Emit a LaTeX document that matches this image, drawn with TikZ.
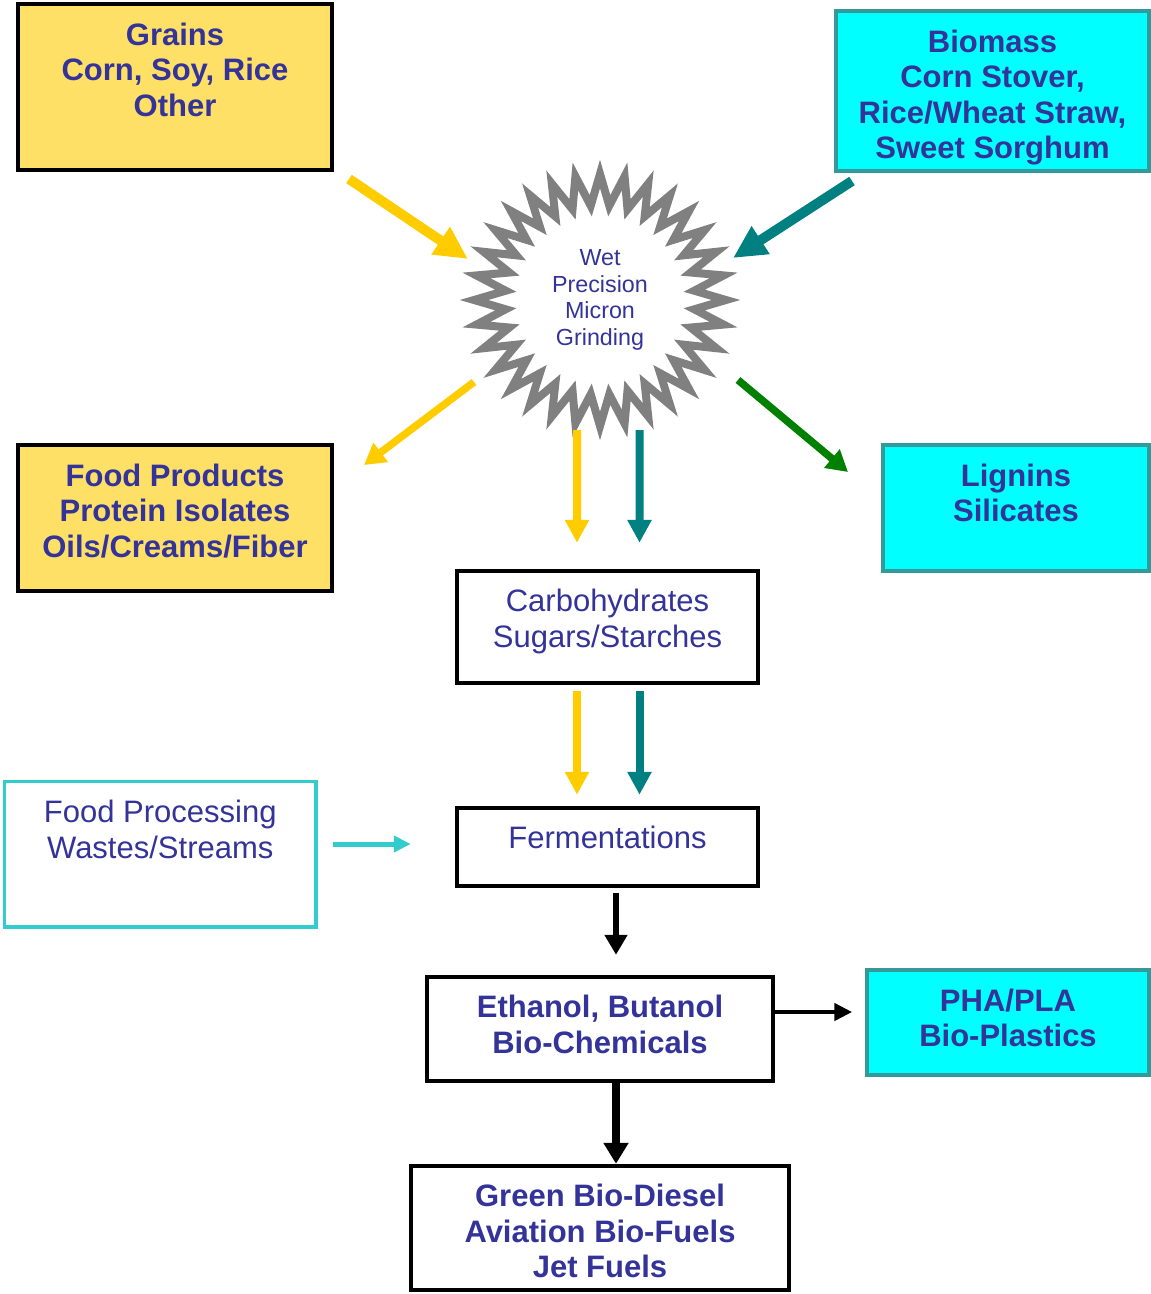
\documentclass[tikz,border=0pt]{standalone}
\usepackage{fontspec}
\setmainfont{Liberation Sans}
\usetikzlibrary{arrows.meta,shapes.geometric}
\definecolor{grainfill}{HTML}{FFE066}
\definecolor{biofill}{HTML}{00FFFF}
\definecolor{bioedge}{HTML}{339999}
\definecolor{wasteedge}{HTML}{33CCCC}
\definecolor{ink}{HTML}{333399}
\definecolor{grainarrow}{HTML}{FFCC00}
\definecolor{tealarrow}{HTML}{008080}
\definecolor{lignarrow}{HTML}{008000}
\definecolor{stargray}{HTML}{808080}

\begin{document}
\begin{tikzpicture}[x=1pt, y=-1pt,
  grainbox/.style={draw=black, line width=3.5pt, fill=grainfill},
  biobox/.style={draw=bioedge, line width=3.5pt, fill=biofill},
  stepbox/.style={draw=black, line width=4.5pt, fill=white},
  wastebox/.style={draw=wasteedge, line width=3.5pt, fill=white},
  headtxt/.style={anchor=north, yshift=-20.5pt, inner sep=0pt, align=center,
                  text=ink, font=\bfseries\fontsize{31}{35.5}\selectfont},
  plaintxt/.style={headtxt, font=\fontsize{31}{35.5}\selectfont},
  grinder/.style={star, star points=32, star point ratio=1.33, minimum size=252pt,
                  draw=stargray, line width=8pt, text=ink, align=center,
                  font=\fontsize{23.3}{26.7}\selectfont},
  fatarr/.style={line width=10pt, -{Triangle[width=31pt,length=33pt]}},
  slimarr/.style={line width=7.5pt, -{Triangle[width=23pt,length=21pt]}},
  droparr/.style={line width=8pt, -{Triangle[width=23pt,length=23pt]}},
  feedarr/.style={line width=5pt, wasteedge, -{Triangle[width=16pt,length=17pt]}},
  blackarr/.style={line width=6.5pt, -{Triangle[width=22pt,length=20pt]}},
  sidearr/.style={line width=4.5pt, -{Triangle[width=17pt,length=18pt]}},
]
  \useasboundingbox (0,0) rectangle (1151,1294);

  % feedstocks
  \node[grainbox, minimum width=314pt, minimum height=166pt,
        label={[headtxt]north:Grains\\Corn, Soy, Rice\\Other}] (grains) at (175,87) {};
  \node[biobox, minimum width=313pt, minimum height=160pt,
        label={[headtxt]north:Biomass\\Corn Stover,\\Rice/Wheat Straw,\\Sweet Sorghum}] (biomass) at (992.5,91) {};

  % grinding
  \node[grinder] (grind) at (600,300) {Wet\\Precision\\Micron\\Grinding};

  % co-products
  \node[grainbox, minimum width=314pt, minimum height=146pt,
        label={[headtxt]north:Food Products\\Protein Isolates\\Oils/Creams/Fiber}] (food) at (175,518) {};
  \node[biobox, minimum width=266pt, minimum height=126pt,
        label={[headtxt]north:Lignins\\Silicates}] (lignin) at (1016,508) {};

  % process chain
  \node[stepbox, minimum width=301pt, minimum height=112pt,
        label={[plaintxt]north:Carbohydrates\\Sugars/Starches}] (carbs) at (607.5,627) {};
  \node[wastebox, minimum width=311.5pt, minimum height=145.5pt,
        label={[plaintxt]north:Food Processing\\Wastes/Streams}] (waste) at (160.25,854.25) {};
  \node[stepbox, minimum width=301pt, minimum height=78pt,
        label={[plaintxt]north:Fermentations}] (ferm) at (607.5,847) {};
  \node[stepbox, minimum width=346pt, minimum height=104pt,
        label={[headtxt]north:Ethanol, Butanol\\Bio-Chemicals}] (ethanol) at (600,1029) {};
  \node[biobox, minimum width=282pt, minimum height=105pt,
        label={[headtxt]north:PHA/PLA\\Bio-Plastics}] (plastics) at (1008,1022.5) {};
  \node[stepbox, minimum width=378pt, minimum height=124pt,
        label={[headtxt]north:Green Bio-Diesel\\Aviation Bio-Fuels\\Jet Fuels}] (fuels) at (600,1228) {};

  % free arrow ends round the grinder
  \coordinate (grains-out) at (349,179);
  \coordinate (grains-in) at (468,259);
  \coordinate (biomass-out) at (852,181);
  \coordinate (biomass-in) at (733,258);
  \coordinate (food-out) at (474,382);
  \coordinate (food-in) at (364,465);
  \coordinate (lignin-out) at (738,380);
  \coordinate (lignin-in) at (848,472);

  \draw[fatarr, grainarrow] (grains-out) -- (grains-in);
  \draw[fatarr, tealarrow] (biomass-out) -- (biomass-in);
  \draw[slimarr, grainarrow] (food-out) -- (food-in);
  \draw[slimarr, lignarrow] (lignin-out) -- (lignin-in);

  \draw[droparr, grainarrow, shorten <=-10pt, shorten >=26pt]
    ([xshift=-23pt]grind.south) -- ([xshift=-30.5pt]carbs.north);
  \draw[droparr, tealarrow, shorten <=-10pt, shorten >=26pt]
    ([xshift=39.5pt]grind.south) -- ([xshift=32pt]carbs.north);
  \draw[droparr, grainarrow, shorten <=6pt, shorten >=11pt]
    ([xshift=-30.5pt]carbs.south) -- ([xshift=-30.5pt]ferm.north);
  \draw[droparr, tealarrow, shorten <=6pt, shorten >=11pt]
    ([xshift=32pt]carbs.south) -- ([xshift=32pt]ferm.north);

  \draw[feedarr, shorten <=15pt, shorten >=44pt]
    ([yshift=10.25pt]waste.east) -- ([yshift=3pt]ferm.west);
  \draw[blackarr, shorten <=5pt, shorten >=20pt]
    ([xshift=8.5pt]ferm.south) -- ([xshift=16pt]ethanol.north);
  \draw[sidearr, shorten >=13pt]
    ([yshift=17pt]ethanol.east) -- ([yshift=10.5pt]plastics.west);
  \draw[blackarr, line width=8pt, -{Triangle[width=24pt,length=21pt]}]
    ([xshift=16pt]ethanol.south) -- ([xshift=16pt]fuels.north);
\end{tikzpicture}
\end{document}
